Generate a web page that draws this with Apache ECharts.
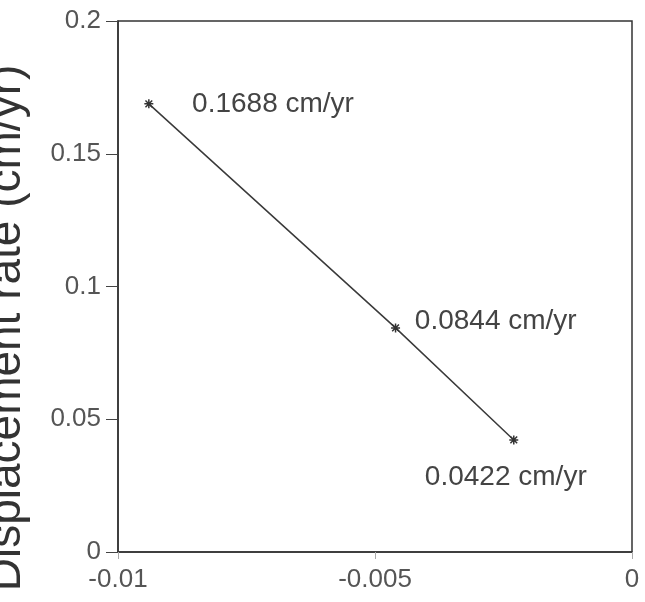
<!DOCTYPE html>
<html>
<head>
<meta charset="utf-8">
<script src="https://cdn.jsdelivr.net/npm/echarts@6/dist/echarts.min.js"></script>
<style>html,body{margin:0;padding:0;background:#fff;}#chart{width:645px;height:602px;}</style>
</head>
<body>
<div id="chart"></div>
<script>
var strain = [-0.0094, -0.0046, -0.0023];
var rate = [0.1688, 0.0844, 0.0422];
var pointLabels = ['0.1688 cm/yr', '0.0844 cm/yr', '0.0422 cm/yr'];
var yAxisTitle = 'Displacement rate (cm/yr)';

var labelPos = [
  {position: 'right', distance: 38, offset: [0, 0]},
  {position: 'right', distance: 14, offset: [0, -7]},
  {position: 'bottom', distance: 18, offset: [-8, 0]}
];
var data = strain.map(function (x, i) {
  return {value: [x, rate[i]], label: {show: true, formatter: pointLabels[i], position: labelPos[i].position, distance: labelPos[i].distance, offset: labelPos[i].offset}};
});

var chart = echarts.init(document.getElementById('chart'), null, {renderer: 'canvas'});
var font = 'Liberation Sans, Arial, Helvetica, sans-serif';
chart.setOption({
  animation: false,
  backgroundColor: '#fff',
  grid: {left: 118, right: 13, top: 21, bottom: 50, containLabel: false, outerBoundsMode: 'none',
    show: true, borderColor: '#333', borderWidth: 1.5},
  graphic: [{
    type: 'text', x: 30, y: 328, rotation: Math.PI / 2, silent: true,
    style: {text: yAxisTitle, fill: '#333', font: '46px ' + font, align: 'center', verticalAlign: 'bottom'}
  }],
  xAxis: {
    type: 'value', min: -0.01, max: 0, interval: 0.005,
    axisLine: {show: true, onZero: false, lineStyle: {color: '#333', width: 1.5}},
    axisTick: {show: true, inside: false, length: 7, lineStyle: {color: '#aaa'}},
    axisLabel: {color: '#555', fontSize: 26, fontFamily: font, margin: 15,
      formatter: function (v) { return v === 0 ? '0' : String(v); }},
    splitLine: {show: false}
  },
  yAxis: {
    type: 'value', min: 0, max: 0.2, interval: 0.05,
    axisLine: {show: true, onZero: false, lineStyle: {color: '#333', width: 1.5}},
    axisTick: {show: true, inside: false, length: 12, lineStyle: {color: '#444'}},
    axisLabel: {color: '#555', fontSize: 26, fontFamily: font, margin: 17,
      formatter: function (v) { return v === 0 ? '0' : String(v); }},
    splitLine: {show: false}
  },
  series: [{
    type: 'line',
    data: data,
    symbol: 'path://M0,4L8,4M4,0L4,8M1,1L7,7M7,1L1,7',
    symbolSize: 9,
    itemStyle: {color: '#fff', borderColor: '#333', borderWidth: 1.5},
    lineStyle: {color: '#3a3a3a', width: 1.5},
    label: {color: '#444', fontSize: 28, fontFamily: font}
  }]
});
</script>
</body>
</html>
